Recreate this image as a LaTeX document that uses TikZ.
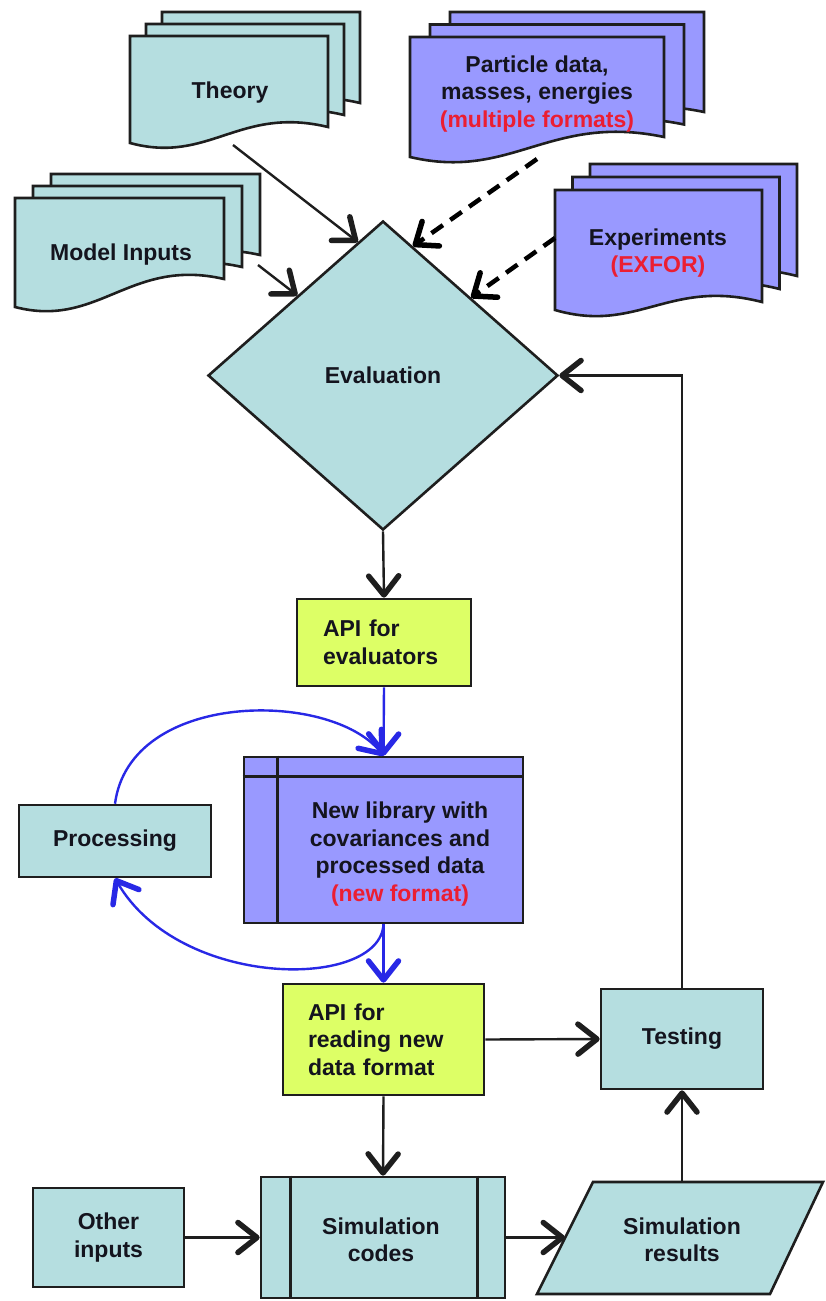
\documentclass[tikz,border=0pt]{standalone}
\usepackage{fontspec}
\setmainfont{Liberation Sans}
\usetikzlibrary{arrows.meta,shapes.geometric,calc}
\definecolor{tealc}{RGB}{181,222,224}
\definecolor{purpc}{RGB}{153,153,255}
\definecolor{greenc}{RGB}{221,255,102}
\definecolor{redc}{RGB}{235,30,50}
\definecolor{bluec}{RGB}{40,40,230}
\definecolor{bordc}{RGB}{30,30,30}
\definecolor{txtc}{RGB}{20,20,30}
\tikzset{
  lbl/.style={font=\bfseries\fontsize{23}{27.5}\selectfont, align=center, text=txtc, inner sep=0pt},
  boxs/.style={draw=bordc, line width=2.6pt},
  tipv/.tip={Straight Barb[length=19pt,width=30pt,line width=5.5pt,round]},
  conn/.style={draw=bordc, line width=2.4pt, -tipv},
  bconn/.style={draw=bluec, line width=2.4pt, -{Straight Barb[length=19pt,width=30pt,line width=5.5pt,round,color=bluec]}},
  dconn/.style={draw=black, line width=4.5pt, dash pattern=on 14pt off 9pt, -tipv},
}
\newcommand{\docpath}[6]{%
  \pgfmathsetmacro\dxa{#1}\pgfmathsetmacro\dya{#2}\pgfmathsetmacro\dxb{#3}%
  \pgfmathsetmacro\dyl{#4}\pgfmathsetmacro\dyr{#5}%
  \pgfmathsetmacro\dww{\dxb-\dxa}\pgfmathsetmacro\dhh{\dyl-\dya}%
  \filldraw[boxs,fill=#6] (\dxa,\dya) -- (\dxb,\dya) -- (\dxb,\dyr)
    .. controls ({\dxa+0.55*\dww},{\dyr-0.2*\dhh}) and ({\dxa+0.4*\dww},{\dyl+0.2*\dhh}) .. (\dxa,\dyl) -- cycle;}
\newcommand{\docstack}[8]{%
  \docpath{(#1)+2*(#6)}{(#2)-2*(#7)}{(#3)+2*(#6)}{(#4)-2*(#7)}{(#5)-2*(#7)}{#8}%
  \docpath{(#1)+(#6)}{(#2)-(#7)}{(#3)+(#6)}{(#4)-(#7)}{(#5)-(#7)}{#8}%
  \docpath{#1}{#2}{#3}{#4}{#5}{#8}}
\begin{document}
\begin{tikzpicture}[x=1pt,y=-1pt]
\useasboundingbox (0,0) rectangle (825,1301);
\fill[white] (0,0) rectangle (825,1301);

% document stacks
\docstack{130}{36}{328}{143}{127}{16}{12}{tealc}
\docstack{15}{198}{224}{307}{279}{18}{12}{tealc}
\docstack{410}{37}{664}{157}{137}{20}{12.5}{purpc}
\docstack{555}{190}{762}{310}{302}{17.5}{13}{purpc}

\node[lbl] (theory) at (230,93) {Theory};
\node[lbl] (model) at (121,255) {Model Inputs};
\node[lbl] (particle) at (537,94) {Particle data,\\masses, energies\\\textcolor{redc}{(multiple formats)}};
\node[lbl] (exper) at (658,253) {Experiments\\\textcolor{redc}{(EXFOR)}};
\coordinate (theoryOut) at (233,145);
\coordinate (modelOut) at (258,265);
\coordinate (particleOut) at (537,159);
\coordinate (experOut) at (555,238);

% evaluation diamond
\node[diamond, boxs, fill=tealc, minimum width=350pt, minimum height=309pt, inner sep=0pt, aspect=1.13, lbl] (eval) at (383,375.5) {Evaluation};

% boxes
\node[boxs, fill=greenc, lbl, align=left, text width=122pt, inner xsep=26pt, minimum height=87pt] (apieval) at (384,642.5) {API for\\evaluators};
\node[boxs, fill=tealc, lbl, minimum width=192pt, minimum height=72pt] (proc) at (115,841) {Processing};
\node[boxs, fill=purpc, minimum width=279pt, minimum height=166pt, inner sep=0pt] (lib) at (383.5,840) {};
\draw[boxs] ($(lib.north west)+(0,21)$) -- ($(lib.north east)+(0,21)$);
\draw[boxs] ($(lib.north west)+(35,0)$) -- ($(lib.south west)+(35,0)$);
\node[lbl] (libtxt) at (400,854) {New library with\\covariances and\\processed data\\\textcolor{redc}{(new format)}};
\node[boxs, fill=greenc, lbl, align=left, text width=151pt, inner xsep=25pt, minimum height=111pt] (apiread) at (383.5,1039.5) {API for\\reading new\\data format};
\node[boxs, fill=tealc, lbl, minimum width=162pt, minimum height=100pt] (testing) at (682,1039) {Testing};
\node[boxs, fill=tealc, lbl, minimum width=151pt, minimum height=99pt] (otherin) at (108.5,1237.5) {Other\\inputs};
\node[boxs, fill=tealc, minimum width=244pt, minimum height=121pt, inner sep=0pt] (simcodes) at (383,1237.5) {};
\draw[boxs] ($(simcodes.north west)+(31,0)$) -- ($(simcodes.south west)+(31,0)$);
\draw[boxs] ($(simcodes.north east)+(-29,0)$) -- ($(simcodes.south east)+(-29,0)$);
\node[lbl] (simtxt) at (381,1240) {Simulation\\codes};
\filldraw[boxs, fill=tealc] (593,1182) -- (823,1182) -- (770,1294) -- (537,1294) -- cycle;
\node[lbl] (simres) at (682,1240) {Simulation\\results};
\coordinate (simresL) at (565,1237.5);
\coordinate (simresT) at (682,1182);

% connectors into evaluation
\draw[conn] (theoryOut) -- ($(eval.north)!0.143!(eval.west)$);
\draw[conn] (modelOut) -- ($(eval.north)!0.486!(eval.west)$);
\draw[dconn] (particleOut) -- ($(eval.north)!0.17!(eval.east)$);
\draw[dconn] (experOut) -- ($(eval.north)!0.50!(eval.east)$);

% main flow
\draw[conn] (eval.south) -- (apieval.north);
\draw[bconn] (apieval.south) -- (lib.north);
\draw[bconn] (proc.north) .. controls (130,690) and (330,690) .. (lib.north);
\draw[bconn] (lib.south) .. controls (380,990) and (180,990) .. (proc.south);
\draw[bconn] (lib.south) -- (apiread.north);
\draw[conn] (apiread.east) -- (testing.west);
\draw[conn] (apiread.south) -- (simcodes.north);
\draw[conn] (otherin.east) -- (simcodes.west);
\draw[conn] (simcodes.east) -- (simresL);
\draw[conn] (simresT) -- (testing.south);
\draw[conn] (testing.north) |- (eval.east);
\end{tikzpicture}
\end{document}
